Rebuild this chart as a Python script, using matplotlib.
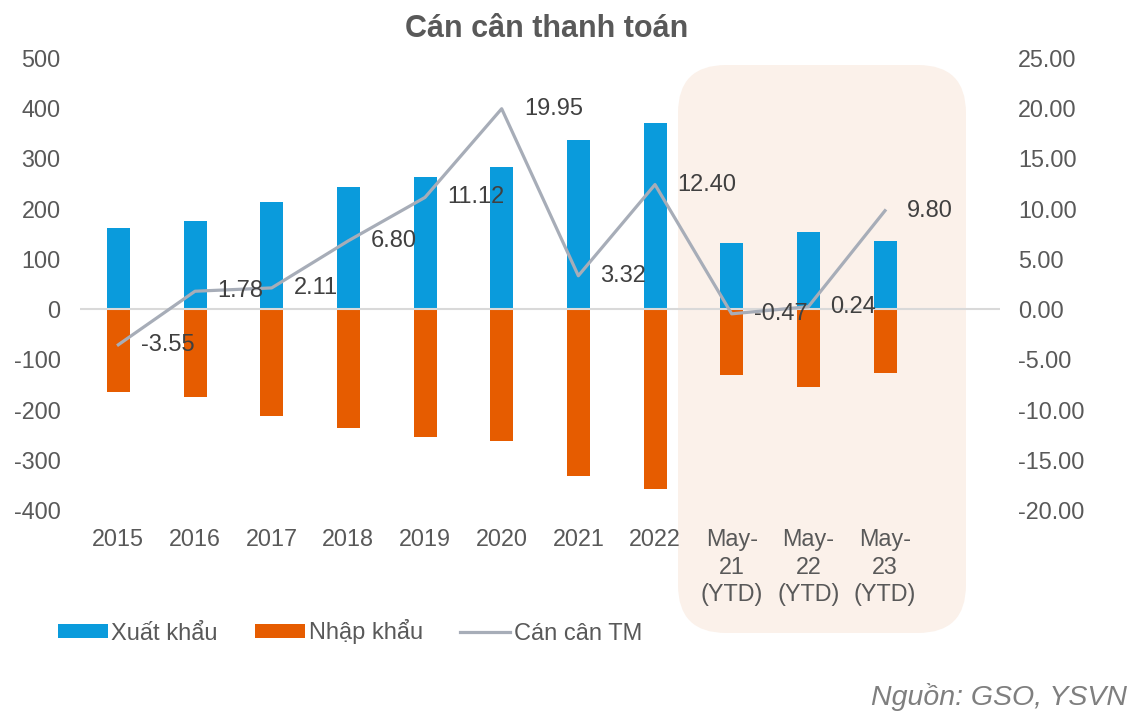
import numpy as np
import matplotlib
matplotlib.use("Agg")
import matplotlib.pyplot as plt
from matplotlib.patches import FancyBboxPatch
from matplotlib.transforms import IdentityTransform

plt.rcParams['font.family'] = ['Liberation Sans', 'DejaVu Sans']
plt.rcParams['axes.unicode_minus'] = False

# Dữ liệu
categories = ["2015", "2016", "2017", "2018", "2019", "2020", "2021", "2022",
              "May-\n21\n(YTD)", "May-\n22\n(YTD)", "May-\n23\n(YTD)"]
xuat_khau = [162, 176, 214, 244, 264, 282, 336, 371, 132, 154, 136]
nhap_khau = [-166, -175, -212, -237, -254, -262, -332, -359, -131, -155, -127]
can_can = [-3.55, 1.78, 2.11, 6.80, 11.12, 19.95, 3.32, 12.40, -0.47, 0.24, 9.80]

blue = "#0A9BDC"
orange = "#E65C00"
grey_line = "#A7ADB8"
txt = "#595959"

fig = plt.figure(figsize=(11.38, 7.16), dpi=100)
ax = fig.add_axes([80 / 1138, 1 - 510 / 716, 920 / 1138, 452 / 716])
ax.patch.set_alpha(0)

# nền vùng YTD
box = FancyBboxPatch((678, 716 - 633), 288, 568,
                     boxstyle="round,pad=0,rounding_size=48",
                     transform=IdentityTransform(), facecolor="#FBF1EA",
                     edgecolor="none", zorder=-1)
fig.patches.append(box)

x = np.arange(len(categories))
ax.bar(x, xuat_khau, width=0.3, color=blue, zorder=2, label="Xuất khẩu")
ax.bar(x, nhap_khau, width=0.3, color=orange, zorder=2, label="Nhập khẩu")
ax.axhline(0, color="#D9D9D9", lw=1.5, zorder=3)

ax.set_xlim(-0.5, 11.5)
ax.set_ylim(-400, 500)
ax.set_yticks(range(-400, 501, 100))
ax.set_xticks(x)
ax.set_xticklabels(categories, linespacing=1.25)
ax.tick_params(axis="both", length=0, labelsize=16.8, labelcolor=txt)
ax.tick_params(axis="y", pad=14)
ax.tick_params(axis="x", pad=13)
for s in ax.spines.values():
    s.set_visible(False)

ax2 = ax.twinx()
ax2.plot(x, can_can, color=grey_line, lw=2.3, zorder=4, label="Cán cân TM")
ax2.set_ylim(-20, 25)
ax2.set_yticks(np.arange(-20, 26, 5))
ax2.set_yticklabels(["%.2f" % v for v in np.arange(-20, 26, 5)])
ax2.tick_params(axis="y", length=0, labelsize=16.8, labelcolor=txt, pad=13)
for s in ax2.spines.values():
    s.set_visible(False)

for xi, v in zip(x, can_can):
    ax2.annotate("%.2f" % v, (xi, v), xytext=(16, 0), textcoords="offset points",
                 ha="left", va="center", fontsize=17, color="#404040", zorder=5)

fig.text(547 / 1138, 1 - 29 / 716, "Cán cân thanh toán", ha="center", va="center",
         fontsize=22, fontweight="bold", color=txt)
fig.text(1127 / 1138, 1 - 697 / 716, "Nguồn: GSO, YSVN", ha="right", va="center",
         fontsize=20.5, style="italic", color="#7F7F7F")

h1, l1 = ax.get_legend_handles_labels()
h2, l2 = ax2.get_legend_handles_labels()
fig.legend(h1 + h2, l1 + l2, loc="center left", bbox_to_anchor=(58 / 1138, 1 - 632 / 716),
           ncol=3, frameon=False, fontsize=17, labelcolor=txt, borderpad=0,
           borderaxespad=0, handlelength=2.1, handleheight=0.5, handletextpad=0.15,
           columnspacing=1.6)

fig.savefig("out.png", dpi=100)
